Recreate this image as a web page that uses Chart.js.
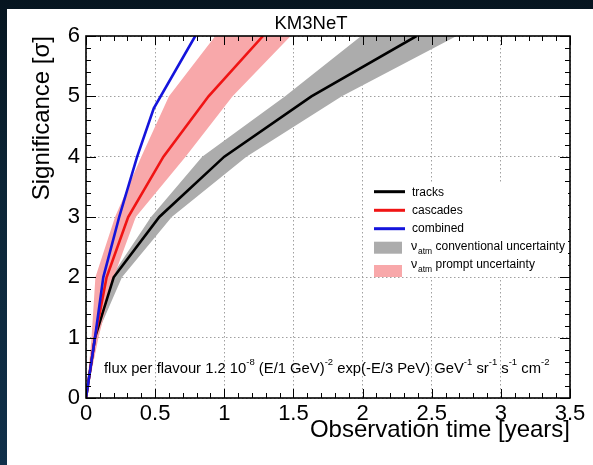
<!DOCTYPE html>
<html>
<head>
<meta charset="utf-8">
<script src="https://cdn.jsdelivr.net/npm/chart.js@4"></script>
<style>
  html, body { margin: 0; padding: 0; }
  body { width: 593px; height: 465px; position: relative; overflow: hidden;
         background: linear-gradient(180deg, #061520 0%, #0c2536 40%, #10304a 100%); }
  #panel { position: absolute; left: 7px; top: 9px; width: 586px; height: 456px; background: #fff; }
  #chart { position: absolute; left: 0; top: 0; }
</style>
</head>
<body>
<div id="panel"></div>
<canvas id="chart" width="593" height="465"></canvas>
<script>
// significance levels (y) and observation time (x, years)
var sigmaLevels = [0, 1, 2, 3, 4, 5, 6];
var tracksTime = [0, 0.065, 0.2, 0.53, 1.0, 1.63, 2.39];
var cascadesTime = [0, 0.065, 0.149, 0.305, 0.56, 0.886, 1.28];
var combinedSigma = [0, 1, 2, 3, 4, 4.8, 6];
var combinedTime = [0, 0.065, 0.125, 0.24, 0.37, 0.49, 0.79];

// uncertainty bands: left (fast) and right (slow) edges at each sigma level
var convLowTime = [0, 0.06, 0.18, 0.47, 0.84, 1.44, 1.99];
var convHighTime = [0, 0.07, 0.26, 0.62, 1.16, 1.85, 2.68];
var promptLowTime = [0, 0.04, 0.068, 0.21, 0.40, 0.60, 0.935];
var promptHighTime = [0, 0.09, 0.2, 0.36, 0.72, 1.06, 1.48];

var xTicks = [0, 0.5, 1, 1.5, 2, 2.5, 3, 3.5];
var yTicks = [0, 1, 2, 3, 4, 5, 6];

var FONT = "'Liberation Sans', Arial, Helvetica, sans-serif";
Chart.defaults.font.family = FONT;
Chart.defaults.color = '#000';

function pts(xs, ys) {
  return xs.map(function (x, i) { return { x: x, y: ys[i] }; });
}
// closed outline: up along the low edge, back down along the high edge
function band(lo, hi, ys) {
  var out = pts(lo, ys);
  for (var i = hi.length - 1; i >= 0; i--) out.push({ x: hi[i], y: ys[i] });
  return out;
}

var colTracks = '#000000', colCascades = '#f01414', colCombined = '#1414dc';
var colConv = '#acacac', colPrompt = '#f8a8aa';

function lineSet(label, data, color) {
  return { label: label, data: data, borderColor: color, borderWidth: 2.6, showLine: true,
           pointRadius: 0, fill: false, tension: 0 };
}
function bandSet(label, data, color) {
  return { label: label, data: data, backgroundColor: color, borderColor: 'rgba(0,0,0,0)',
           borderWidth: 0, showLine: true, pointRadius: 0, fill: 'shape', tension: 0 };
}

var flux = [
  ['flux per flavour 1.2 10', false], ['-8', true], [' (E/1 GeV)', false], ['-2', true],
  [' exp(-E/3 PeV) GeV', false], ['-1', true], [' sr', false], ['-1', true],
  [' s', false], ['-1', true], [' cm', false], ['-2', true]
];

var decor = {
  id: 'decor',
  afterDraw: function (chart) {
    var ctx = chart.ctx, a = chart.chartArea, sx = chart.scales.x, sy = chart.scales.y;
    ctx.save();
    // inward ticks on all four sides
    ctx.strokeStyle = '#000';
    ctx.lineWidth = 1;
    ctx.beginPath();
    for (var i = 0; i <= 35; i++) {
      var px = Math.round(sx.getPixelForValue(i / 10)) + 0.5;
      var len = (i % 5 === 0) ? 9 : 5;
      ctx.moveTo(px, a.bottom); ctx.lineTo(px, a.bottom - len);
      ctx.moveTo(px, a.top); ctx.lineTo(px, a.top + len);
    }
    for (var j = 0; j <= 30; j++) {
      var py = Math.round(sy.getPixelForValue(j / 5)) + 0.5;
      var l2 = (j % 5 === 0) ? 10 : 5;
      ctx.moveTo(a.left, py); ctx.lineTo(a.left + l2, py);
      ctx.moveTo(a.right, py); ctx.lineTo(a.right - l2, py);
    }
    ctx.stroke();
    // frame
    ctx.lineWidth = 1.6;
    ctx.strokeRect(a.left, a.top, a.right - a.left, a.bottom - a.top);

    // title
    ctx.fillStyle = '#000';
    ctx.textBaseline = 'alphabetic';
    ctx.textAlign = 'center';
    ctx.font = '18.5px ' + FONT;
    ctx.fillText('KM3NeT', 311, 28.5);

    // flux annotation
    ctx.textAlign = 'left';
    var x = 104;
    flux.forEach(function (s) {
      ctx.font = (s[1] ? '9.5px ' : '14.8px ') + FONT;
      ctx.fillText(s[0], x, s[1] ? 365 : 373);
      x += ctx.measureText(s[0]).width;
    });

    // legend
    ctx.fillStyle = '#fff';
    ctx.fillRect(364, 182, 204, 95);
    var ds = chart.data.datasets;
    var lines = [[ds[2], 191.7, 196], [ds[1], 210.3, 214], [ds[0], 228.7, 232]];
    lines.forEach(function (e) {
      ctx.strokeStyle = e[0].borderColor;
      ctx.lineWidth = 3;
      ctx.beginPath(); ctx.moveTo(374, e[1]); ctx.lineTo(405, e[1]); ctx.stroke();
      ctx.fillStyle = '#000';
      ctx.font = '12px ' + FONT;
      ctx.fillText(e[0].label, 412, e[2]);
    });
    var boxes = [[ds[4], 241.7, 250, 'conventional uncertainty'], [ds[3], 265, 268, 'prompt uncertainty']];
    boxes.forEach(function (e) {
      ctx.fillStyle = e[0].backgroundColor;
      ctx.fillRect(374, e[1], 28, 12);
      ctx.fillStyle = '#000';
      ctx.font = '12.5px ' + FONT;
      ctx.fillText('\u03bd', 411, e[2]);
      ctx.font = '8.5px ' + FONT;
      ctx.fillText('atm', 418, e[2] + 3.5);
      ctx.font = '12px ' + FONT;
      ctx.fillText(e[3], 435.5, e[2]);
    });
    ctx.restore();
  }
};

function plainLabel(v) { return String(v); }

new Chart(document.getElementById('chart'), {
  type: 'scatter',
  data: {
    datasets: [
      lineSet('combined', pts(combinedTime, combinedSigma), colCombined),
      lineSet('cascades', pts(cascadesTime, sigmaLevels), colCascades),
      lineSet('tracks', pts(tracksTime, sigmaLevels), colTracks),
      bandSet('\u03bd atm prompt uncertainty', band(promptLowTime, promptHighTime, sigmaLevels), colPrompt),
      bandSet('\u03bd atm conventional uncertainty', band(convLowTime, convHighTime, sigmaLevels), colConv)
    ]
  },
  options: {
    responsive: false,
    animation: false,
    devicePixelRatio: 1,
    layout: { padding: { left: 0, right: 23, top: 36, bottom: 0 } },
    plugins: { legend: { display: false }, tooltip: { enabled: false }, title: { display: false } },
    scales: {
      x: {
        type: 'linear', min: 0, max: 3.5, z: 1,
        afterBuildTicks: function (s) { s.ticks = xTicks.map(function (v) { return { value: v }; }); },
        ticks: { padding: 3, maxRotation: 0, autoSkip: false, font: { size: 22 }, callback: plainLabel },
        grid: { color: '#a0a0a0', lineWidth: 1, drawTicks: false },
        border: { display: false, dash: [1.5, 2.5] },
        title: { display: true, text: 'Observation time [years]', align: 'end',
                 font: { size: 24 }, padding: { top: 0, bottom: 20 } },
        afterFit: function (s) { s.height = 67; }
      },
      y: {
        type: 'linear', min: 0, max: 6, z: 1,
        afterBuildTicks: function (s) { s.ticks = yTicks.map(function (v) { return { value: v }; }); },
        ticks: { padding: 6, font: { size: 22 }, callback: plainLabel },
        grid: { color: '#a0a0a0', lineWidth: 1, drawTicks: false },
        border: { display: false, dash: [1.5, 2.5] },
        title: { display: true, text: 'Significance [\u03c3]', align: 'end',
                 font: { size: 24 }, padding: { top: 27.6, bottom: 0 } },
        afterFit: function (s) { s.width = 86; }
      }
    }
  },
  plugins: [decor]
});
</script>
</body>
</html>
